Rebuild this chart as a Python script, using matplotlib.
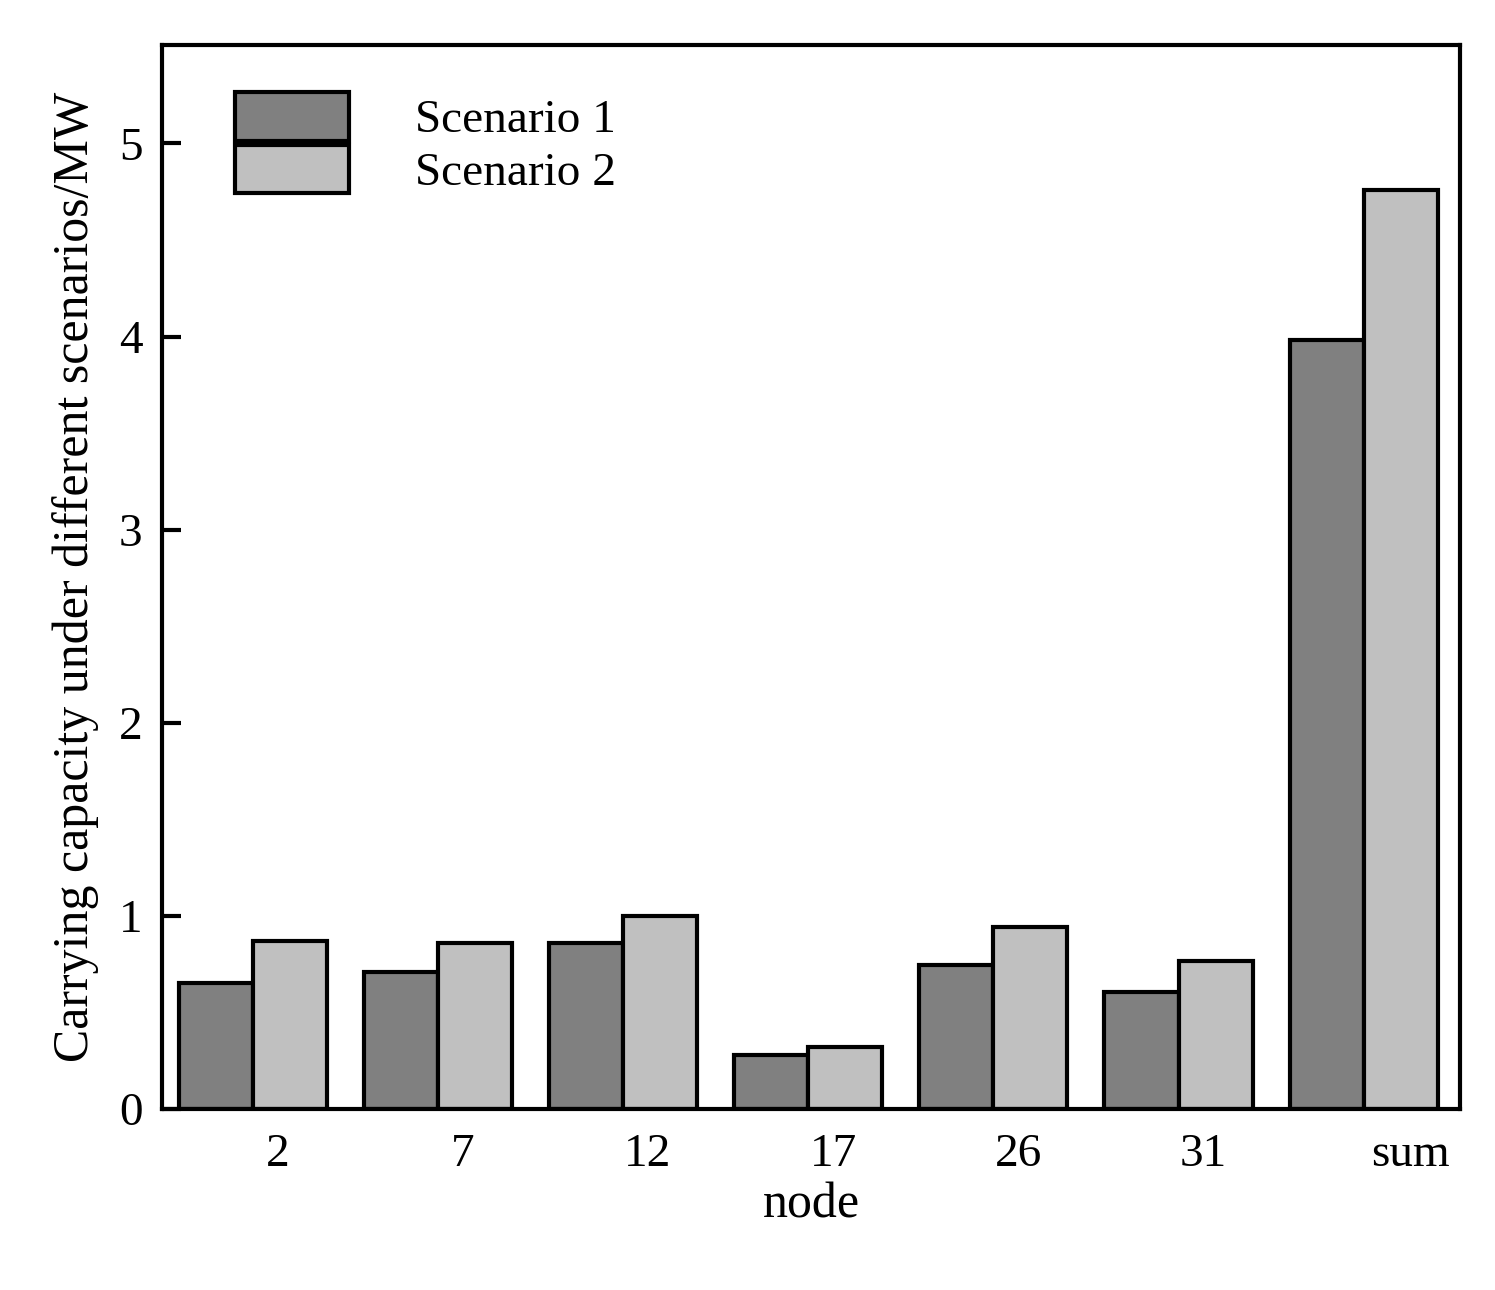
import numpy as np
import matplotlib
matplotlib.use("Agg")
import matplotlib.pyplot as plt

plt.rcParams['font.family'] = ['Liberation Serif', 'DejaVu Serif']

nodes = ['2', '7', '12', '17', '26', '31', 'sum']
scenario1 = [0.65, 0.71, 0.86, 0.28, 0.745, 0.605, 3.98]
scenario2 = [0.87, 0.86, 1.00, 0.32, 0.94, 0.766, 4.76]

fig = plt.figure(figsize=(14.95, 12.9), dpi=100)
ax = fig.add_axes([162 / 1495, 1 - 1109 / 1290, (1460 - 162) / 1495, (1109 - 45) / 1290])

x = np.arange(len(nodes))
w = 0.4
ax.bar(x - w / 2, scenario1, w, color='#808080', edgecolor='black', linewidth=3, label='Scenario 1')
ax.bar(x + w / 2, scenario2, w, color='#c0c0c0', edgecolor='black', linewidth=3, label='Scenario 2')

ax.set_xlim(-0.49, 6.52)
ax.set_ylim(0, 5.51)
offs = [0.135] * 6 + [0.25]
ax.set_xticks(x + np.array(offs))
ax.set_xticklabels(nodes, fontsize=34)
ax.tick_params(axis='x', length=0, pad=18)
ax.set_yticks([0, 1, 2, 3, 4, 5])
ax.tick_params(axis='y', direction='in', length=14, width=3, labelsize=34, pad=14)
for s in ax.spines.values():
    s.set_linewidth(3)

ax.set_xlabel('node', fontsize=36, labelpad=4)
ax.set_ylabel('Carrying capacity under different scenarios/MW', fontsize=36, labelpad=14)

ax.legend(loc='upper left', frameon=False, fontsize=34, handlelength=2.4, handleheight=1.2,
          handletextpad=1.4, labelspacing=0.05, borderaxespad=0.6, bbox_to_anchor=(0.02, 1.0))

fig.savefig('out.png', dpi=100)
